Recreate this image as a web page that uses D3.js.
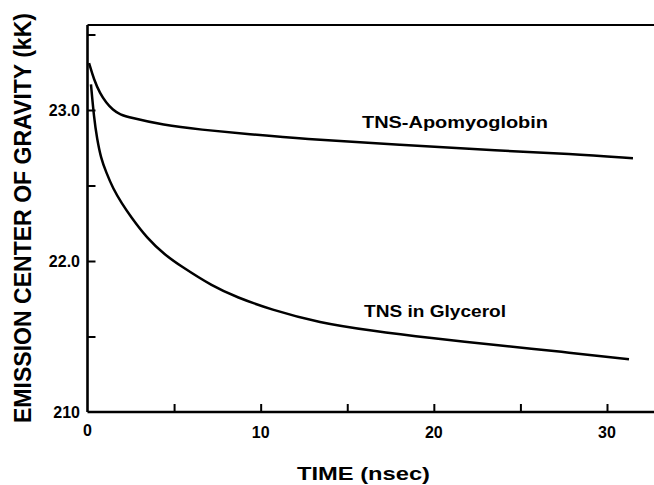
<!DOCTYPE html>
<html><head><meta charset="utf-8">
<script src="https://cdn.jsdelivr.net/npm/d3@7"></script>
<style>
html,body{margin:0;padding:0;background:#fff;}
svg{display:block;}
text{font-family:"Liberation Sans",Arial,sans-serif;font-weight:bold;fill:#000;}
</style></head>
<body>
<svg id="c" width="654" height="485"></svg>
<script>
// Data
const apoTime   = [0.09, 0.375, 0.72, 1.07, 1.47, 1.88, 2.46, 4.36, 6.50, 9.38, 12.27, 18.05, 23.82, 27.86, 31.5];
const apoValue  = [23.31, 23.20, 23.11, 23.05, 23.00, 22.97, 22.95, 22.90, 22.87, 22.84, 22.81, 22.77, 22.73, 22.71, 22.68];
const glyTime   = [0.20, 0.375, 0.55, 0.78, 1.07, 1.47, 1.99, 2.46, 3.44, 4.48, 5.34, 7.25, 8.63, 10.54, 13.43, 16.32, 19.78, 23.82, 27.28, 31.27];
const glyValue  = [23.17, 22.95, 22.81, 22.68, 22.59, 22.48, 22.38, 22.30, 22.15, 22.04, 21.97, 21.83, 21.76, 21.68, 21.59, 21.54, 21.49, 21.44, 21.40, 21.35];
const xTicks = [5, 10, 15, 20, 25, 30];
const xTickLabels = {0: "0", 10: "10", 20: "20", 30: "30"};
const yTicks = [21.5, 22.0, 22.5, 23.0, 23.5];
const yTickLabels = {"21": "210", "22": "22.0", "23": "23.0"};
const seriesLabels = ["TNS-Apomyoglobin", "TNS in Glycerol"];
const xTitle = "TIME (nsec)";
const yTitle = "EMISSION CENTER OF GRAVITY (kK)";

const svg = d3.select("#c");
const x = d3.scaleLinear().domain([0, 30]).range([87.5, 607]);
const y = d3.scaleLinear().domain([21, 23]).range([412, 110]);
const xEnd = x.invert(654), yTop = y.invert(25);

// frame lines: left axis, bottom axis, top line
const g = svg.append("g");
g.append("line").attr("x1", x(0)).attr("x2", x(xEnd)).attr("y1", y(21)).attr("y2", y(21))
  .attr("stroke", "#000").attr("stroke-width", 2.6);
g.append("line").attr("x1", x(0)).attr("x2", x(0)).attr("y1", y(21)).attr("y2", y(yTop))
  .attr("stroke", "#000").attr("stroke-width", 2.6);
g.append("line").attr("x1", x(0)).attr("x2", x(xEnd)).attr("y1", y(yTop)).attr("y2", y(yTop))
  .attr("stroke", "#000").attr("stroke-width", 2);

// x axis ticks (inward) and labels
const xa = svg.append("g").attr("transform", `translate(0,${y(21)})`)
  .call(d3.axisBottom(x).tickValues(xTicks).tickSize(-8).tickFormat(() => ""));
xa.select(".domain").remove();
xa.selectAll("line").attr("stroke-width", 2);
svg.selectAll(".xl").data(Object.keys(xTickLabels)).enter().append("text")
  .attr("x", d => x(+d)).attr("y", d => +d === 0 ? 436 : 438)
  .attr("text-anchor", "middle").attr("font-size", 16).text(d => xTickLabels[d]);

// y axis ticks (inward) and labels
const ya = svg.append("g").attr("transform", `translate(${x(0)},0)`)
  .call(d3.axisLeft(y).tickValues(yTicks).tickSize(-8).tickFormat(() => ""));
ya.select(".domain").remove();
ya.selectAll("line").attr("stroke-width", 2);
svg.selectAll(".yl").data(Object.keys(yTickLabels)).enter().append("text")
  .attr("x", 80).attr("y", d => y(+d) + 6)
  .attr("text-anchor", "end").attr("font-size", 16).text(d => yTickLabels[d]);

// curves
const line = d3.line().x(d => x(d[0])).y(d => y(d[1])).curve(d3.curveBasis);
svg.append("path").datum(apoTime.map((t, i) => [t, apoValue[i]]))
  .attr("d", line).attr("fill", "none").attr("stroke", "#000").attr("stroke-width", 2.5);
svg.append("path").datum(glyTime.map((t, i) => [t, glyValue[i]]))
  .attr("d", line).attr("fill", "none").attr("stroke", "#000").attr("stroke-width", 2.5);

// series labels
svg.append("text").attr("x", 362).attr("y", 128).attr("font-size", 16)
  .attr("textLength", 186).attr("lengthAdjust", "spacingAndGlyphs").text(seriesLabels[0]);
svg.append("text").attr("x", 364).attr("y", 317).attr("font-size", 16)
  .attr("textLength", 142).attr("lengthAdjust", "spacingAndGlyphs").text(seriesLabels[1]);

// axis titles
svg.append("text").attr("x", 297).attr("y", 480).attr("font-size", 19)
  .attr("textLength", 133).attr("lengthAdjust", "spacingAndGlyphs").text(xTitle);
svg.append("text").attr("transform", "translate(31,423) rotate(-90)").attr("font-size", 23)
  .attr("textLength", 410).attr("lengthAdjust", "spacingAndGlyphs").text(yTitle);
</script>
</body></html>
